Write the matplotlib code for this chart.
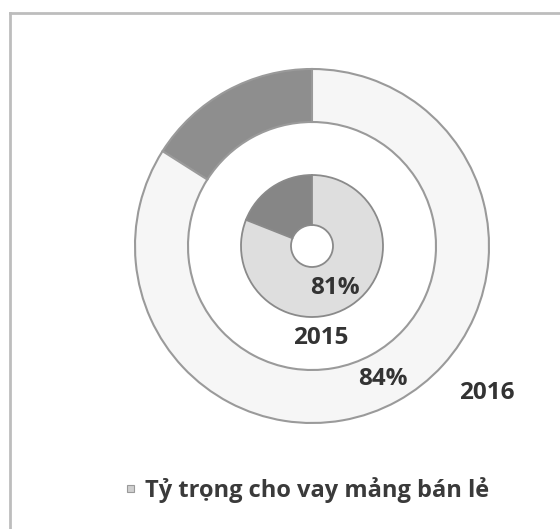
import matplotlib
matplotlib.use("Agg")
import matplotlib.pyplot as plt
from matplotlib.lines import Line2D
from matplotlib.patches import Rectangle

years = ["2015", "2016"]
retail_share = [81, 84]          # Tỷ trọng cho vay mảng bán lẻ (%)
other_share = [19, 16]           # phần còn lại (%)
legend_label = "Tỷ trọng cho vay mảng bán lẻ"

W, H = 560, 529
fig = plt.figure(figsize=(W / 100, H / 100), dpi=100)
ax = fig.add_axes([0, 0, 1, 1])
ax.set_xlim(0, W)
ax.set_ylim(0, H)
ax.set_aspect("equal")
ax.axis("off")

cx, cy = 312, H - 246
font = ["Open Sans", "DejaVu Sans"]

# outer ring: 2016
ax.pie([other_share[1], retail_share[1]], startangle=90, counterclock=True,
       radius=177, center=(cx, cy), colors=["#8e8e8e", "#f6f6f6"],
       wedgeprops=dict(width=53, edgecolor="#9a9a9a", linewidth=1.5),
       frame=True)
# inner ring: 2015
ax.pie([other_share[0], retail_share[0]], startangle=90, counterclock=True,
       radius=71, center=(cx, cy), colors=["#868686", "#dedede"],
       wedgeprops=dict(width=50, edgecolor="#8a8a8a", linewidth=1.3),
       frame=True)
ax.set_xlim(0, W)
ax.set_ylim(0, H)
ax.axis("off")

tc = "#333333"
ax.text(335, H - 288, f"{retail_share[0]}%", ha="center", va="center",
        fontsize=17.5, fontweight="bold", color=tc, family=font)
ax.text(321, H - 338, years[0], ha="center", va="center",
        fontsize=17.5, fontweight="bold", color=tc, family=font)
ax.text(383, H - 379, f"{retail_share[1]}%", ha="center", va="center",
        fontsize=17.5, fontweight="bold", color=tc, family=font)
ax.text(487, H - 393, years[1], ha="center", va="center",
        fontsize=17.5, fontweight="bold", color=tc, family=font)

# legend
ax.add_patch(Rectangle((127, H - 492), 7, 7, facecolor="#cfcfcf",
                       edgecolor="#9a9a9a", linewidth=0.8))
ax.text(145, H - 490, legend_label, ha="left", va="center",
        fontsize=17, fontweight="bold", color="#3a3a3a", family=font)

# frame (left and top edges)
ax.add_line(Line2D([10, 10], [0, H - 13], color="#bdbdbd", linewidth=2))
ax.add_line(Line2D([10, W], [H - 13, H - 13], color="#bdbdbd", linewidth=2))

fig.savefig("out.png", dpi=100, facecolor="white")
